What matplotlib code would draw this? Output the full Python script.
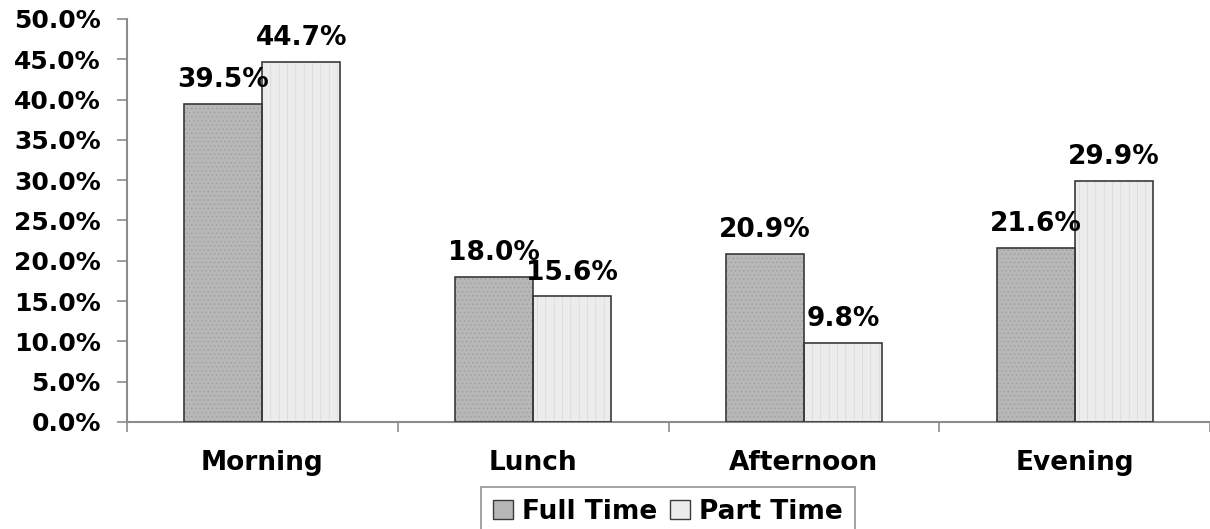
import numpy as np
import matplotlib.pyplot as plt
from matplotlib.ticker import FuncFormatter, FixedLocator

plt.rcParams['font.family'] = ['DejaVu Sans']
plt.rcParams['font.weight'] = 'bold'

# Share of respondents by time of day
periods = ['Morning', 'Lunch', 'Afternoon', 'Evening']
full_time = [39.5, 18.0, 20.9, 21.6]
part_time = [44.7, 15.6, 9.8, 29.9]
series_names = ['Full Time', 'Part Time']

fig = plt.figure(figsize=(12.10, 5.29), dpi=100)
ax = fig.add_axes([0.105, 0.2023, 0.895, 0.7618])

x = np.arange(len(periods))
w = 0.288
axis_grey = '#8c8c8c'

plt.rcParams['hatch.linewidth'] = 0.4
bars_ft = ax.bar(x - w / 2, full_time, w, color='#b7b7b7', edgecolor='#9a9a9a',
                 hatch='....', linewidth=0, label=series_names[0], zorder=2)
bars_pt = ax.bar(x + w / 2, part_time, w, color='#ececec', edgecolor='#d2d2d2',
                 hatch='||', linewidth=0, label=series_names[1], zorder=2)
# dark outlines drawn on top of the hatched fills
ax.bar(x - w / 2, full_time, w, fill=False, edgecolor='#3a3a3a', linewidth=1.2, zorder=3)
ax.bar(x + w / 2, part_time, w, fill=False, edgecolor='#3a3a3a', linewidth=1.2, zorder=3)

for bars, vals in ((bars_ft, full_time), (bars_pt, part_time)):
    for b, v in zip(bars, vals):
        ax.annotate(f'{v:.1f}%', (b.get_x() + b.get_width() / 2, v),
                    xytext=(0, 12), textcoords='offset points',
                    ha='center', va='baseline', fontsize=19, fontweight='bold',
                    zorder=4)

ax.set_xlim(-0.5, len(periods) - 0.5)
ax.set_ylim(0, 50)
ax.yaxis.set_major_locator(FixedLocator(np.arange(0, 51, 5)))
ax.yaxis.set_major_formatter(FuncFormatter(lambda v, _: f'{v:.1f}%'))

# category labels sit between the boundary ticks
ax.set_xticks(np.arange(-0.5, len(periods), 1.0))
ax.set_xticklabels([])
ax.set_xticks(x, minor=True)
ax.set_xticklabels(periods, minor=True, fontsize=19, fontweight='bold')
ax.tick_params(axis='x', which='minor', length=0, pad=20)
ax.tick_params(axis='x', which='major', length=7, width=1.2, color=axis_grey, direction='out')
ax.tick_params(axis='y', length=7, width=1.2, color=axis_grey, labelsize=18, pad=12)

for side in ('top', 'right'):
    ax.spines[side].set_visible(False)
for side in ('left', 'bottom'):
    ax.spines[side].set_color(axis_grey)
    ax.spines[side].set_linewidth(1.5)

leg = fig.legend(handles=[bars_ft, bars_pt], loc='upper center',
                 bbox_to_anchor=(0.552, 0.0794), borderaxespad=0, ncol=2,
                 frameon=True, fancybox=False, fontsize=19,
                 handlelength=0.75, handleheight=0.75,
                 handletextpad=0.35, columnspacing=0.5, borderpad=0.45)
leg.get_frame().set_edgecolor('#7a7a7a')
leg.get_frame().set_linewidth(1.2)
for h in leg.legend_handles:
    h.set_edgecolor('#3a3a3a')
    h.set_linewidth(1.0)
    h.set_hatch(None)

fig.savefig('out.png', dpi=100)
